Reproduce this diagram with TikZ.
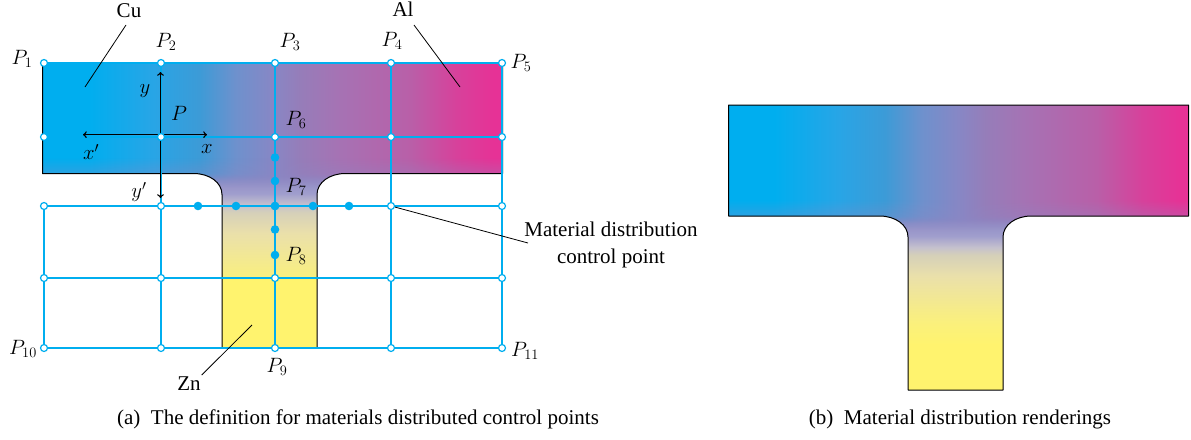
\documentclass[tikz,border=0pt]{standalone}
\usepackage{fontspec}
\setmainfont{Liberation Serif}
\definecolor{gitter}{RGB}{0,174,239}
\definecolor{gelb}{RGB}{255,243,110}
\definecolor{ba}{RGB}{40,165,230}
\definecolor{bb}{RGB}{60,155,215}
\definecolor{bc}{RGB}{110,145,205}
\definecolor{bd}{RGB}{135,135,197}
\definecolor{be}{RGB}{150,125,185}
\definecolor{bf}{RGB}{165,115,180}
\definecolor{bg}{RGB}{185,95,168}
\definecolor{bh}{RGB}{215,65,155}
\definecolor{bi}{RGB}{230,50,150}
\definecolor{sa}{RGB}{250,240,125}
\definecolor{sb}{RGB}{234,224,170}
\definecolor{sc}{RGB}{213,208,185}
\definecolor{sd}{RGB}{197,193,205}
\definecolor{se}{RGB}{160,158,205}
\definecolor{sf}{RGB}{140,135,195}
% Cu links, Al rechts (25bp bis 75bp entspricht der Pfadbreite)
\pgfdeclarehorizontalshading{verlaufbalken}{100bp}{
  color(0bp)=(gitter); color(30bp)=(gitter); color(37bp)=(ba); color(42bp)=(bb);
  color(46bp)=(bc); color(50bp)=(bd); color(53bp)=(be); color(57bp)=(bf);
  color(65bp)=(bg); color(70bp)=(bh); color(74bp)=(bi); color(100bp)=(bi)}
% Zn unten, oben in den Balken hinein
\pgfdeclareverticalshading{verlaufsteg}{100bp}{
  color(0bp)=(gelb); color(33bp)=(gelb); color(37bp)=(sa); color(45bp)=(sb);
  color(48.7bp)=(sc); color(50bp)=(sd); color(52bp)=(se); color(55bp)=(sf);
  color(100bp)=(sf)}
\pgfdeclareverticalshading{maskesteg}{100bp}{
  color(0bp)=(white); color(53.2bp)=(white); color(54.3bp)=(black!20!white);
  color(55.5bp)=(black!70!white); color(58.3bp)=(black); color(100bp)=(black)}
\pgfdeclarefading{blendesteg}{\pgfuseshading{maskesteg}}
\tikzset{
  gitterlinie/.style={gitter, line width=1.6pt},
  knoten/.style={circle, draw=gitter, fill=white, line width=1.2pt, inner sep=0pt, minimum size=7pt},
  punkt/.style={circle, fill=gitter, inner sep=0pt, minimum size=8.6pt},
  achse/.style={black, line width=1.4pt, ->},
  zeiger/.style={black, line width=0.8pt},
}
% T-Profil mit linker oberer Ecke bei (x,y): \tprofil{x}{y}
\newcommand{\tprofil}[2]{%
  \begin{scope}[shift={(#1,#2)}]
    \def\profilweg{(0,0) -- (460,0) -- (460,111) -- (303,111)
      .. controls (287,111) and (274.5,120) .. (274.5,132) -- (274.5,285)
      -- (179.5,285) -- (179.5,132)
      .. controls (179.5,120) and (167,111) .. (151,111) -- (0,111) -- cycle}
    \begin{scope}
      \clip \profilweg;
      \shade[shading=verlaufbalken] (0,0) rectangle (460,285);
      \shade[shading=verlaufsteg, path fading=blendesteg] (0,0) rectangle (460,285);
    \end{scope}
    \draw[black, line width=1pt, line join=round] \profilweg;
  \end{scope}}

\begin{document}
\begin{tikzpicture}[x=1pt, y=-1pt, font=\fontsize{21}{27}\selectfont]
  \useasboundingbox (0,0) rectangle (1191,439);

  % ---------------- (a) Kontrollpunkte ------------------
  \tprofil{42.5}{62.5}
  \fill[gelb] (223,278) rectangle (316,347);

  % Gitter
  \foreach \zeile/\y in {a/63,b/137,c/206,d/278,e/348}
    \foreach \spalte/\x in {1/44,2/161,3/275,4/391,5/502}
      \coordinate (g\zeile\spalte) at (\x,\y);
  \foreach \zeile in {a,b,c,d,e} \draw[gitterlinie] (g\zeile1) -- (g\zeile5);
  \draw[gitterlinie] (gc1) -- (ge1) (ga2) -- (ge2) (ga3) -- (ge3) (ga4) -- (ge4) (ga5) -- (ge5);
  \foreach \zeile in {a,b,c,d,e}
    \foreach \spalte in {1,2,3,4,5}
      \node[knoten] (k\zeile\spalte) at (g\zeile\spalte) {};

  % Materialpunkte
  \foreach \name/\x/\y in {m1/275/157.5, m2/275/181, m3/275/206, m4/275/229.5, m5/275/255,
      m6/198/206, m7/236/206, m8/313/206, m9/349/206}
    \node[punkt] (\name) at (\x,\y) {};

  % Achsen
  \coordinate (ursprung) at (160.5,134.7);
  \draw[achse] (ursprung) -- (207,134.7) coordinate (xplus);
  \draw[achse] (ursprung) -- (83,134.7) coordinate (xminus);
  \draw[achse] (ursprung) -- (160.5,72) coordinate (yplus);
  \draw[achse] (ursprung) -- (160.5,198) coordinate (yminus);
  \node[knoten] at (kb2) {};
  \node at (207,149) {$x$};
  \node at (91,152) {$x'$};
  \node at (145,91) {$y$};
  \node at (139,192) {$y'$};
  \node at (179,113) {$P$};

  % Bezeichnungen
  \node (p1) at (22,59) {$P_{1}$};
  \node (p2) at (166,42) {$P_{2}$};
  \node (p3) at (290,42) {$P_{3}$};
  \node (p4) at (392,41) {$P_{4}$};
  \node (p5) at (521,63) {$P_{5}$};
  \node (p6) at (296,120) {$P_{6}$};
  \node (p7) at (296,187) {$P_{7}$};
  \node (p8) at (296,256) {$P_{8}$};
  \node (p9) at (277,367) {$P_{9}$};
  \node (p10) at (23,349) {$P_{10}$};
  \node (p11) at (525,351) {$P_{11}$};

  % Werkstoffe mit Zeigern
  \node (cu) at (129,11) {Cu};
  \node (al) at (403,9) {Al};
  \node (zn) at (189,384) {Zn};
  \node[align=center] (text) at (611,245) {Material distribution\\control point};
  \coordinate (cuziel) at (85,87);
  \coordinate (alziel) at (460,87);
  \coordinate (znziel) at (252,325);
  \draw[zeiger] (126,25) -- (cuziel);
  \draw[zeiger] (414,25) -- (alziel);
  \draw[zeiger] (201.7,375) -- (znziel);
  \draw[zeiger] (kc4) -- (528,243);

  \node (capa) at (358,419) {(a)\enspace The definition for materials distributed control points};

  % ---------------- (b) Verteilung ------------------
  \tprofil{728.5}{105}
  \node (capb) at (960,419) {(b)\enspace Material distribution renderings};
\end{tikzpicture}
\end{document}
